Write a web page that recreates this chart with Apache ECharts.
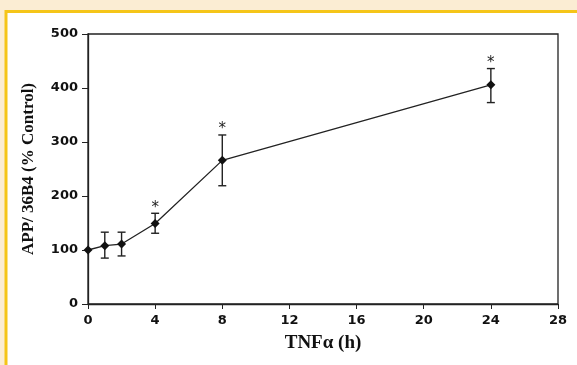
<!DOCTYPE html>
<html>
<head>
<meta charset="utf-8">
<script src="https://cdn.jsdelivr.net/npm/echarts@6/dist/echarts.min.js"></script>
<style>
  html, body { margin: 0; padding: 0; background: #fbedd3; }
  #chart { width: 577px; height: 365px; }
</style>
</head>
<body>
<div id="chart"></div>
<script>
// time points (h) and APP/36B4 mean, error bar limits
const hours = [0, 1, 2, 4, 8, 24]
const means = [100, 108, 111, 149, 266, 406]
const upper = [100, 133, 133, 168, 313, 436]
const lower = [100, 85, 89, 131, 219, 373]
const significant = [false, false, false, true, true, true]

const chart = echarts.init(document.getElementById('chart'))

const tickFont = {
  fontFamily: 'DejaVu Sans',
  fontWeight: 'bold',
  fontSize: 13,
  color: '#111'
}

const option = {
  animation: false,
  backgroundColor: 'transparent',
  graphic: [
    {
      // yellow frame, only top and left edges are in view
      type: 'rect',
      shape: { x: 6, y: 11.5, width: 700, height: 500 },
      style: { fill: '#fff', stroke: '#f5c518', lineWidth: 3 },
      z: -10
    }
  ],
  grid: {
    left: 88,
    right: 19,
    top: 34,
    bottom: 61,
    show: true,
    borderColor: '#222',
    borderWidth: 1.3,
    backgroundColor: '#fff'
  },
  xAxis: {
    type: 'value',
    min: 0,
    max: 28,
    interval: 4,
    splitLine: { show: false },
    axisLine: { show: true, lineStyle: { color: '#222', width: 1.3 } },
    axisTick: { show: true, length: 5, lineStyle: { color: '#222' } },
    axisLabel: { ...tickFont, margin: 10 },
    name: 'TNF\u03b1 (h)',
    nameLocation: 'middle',
    nameGap: 30,
    nameTextStyle: {
      fontFamily: 'Liberation Serif',
      fontWeight: 'bold',
      fontSize: 19,
      color: '#111'
    }
  },
  yAxis: {
    type: 'value',
    min: 0,
    max: 500,
    interval: 100,
    splitLine: { show: false },
    axisLine: { show: true, lineStyle: { color: '#222', width: 1.3 } },
    axisTick: { show: true, length: 6, lineStyle: { color: '#222' } },
    axisLabel: { ...tickFont, margin: 10 },
    name: 'APP/ 36B4 (% Control)',
    nameLocation: 'middle',
    nameGap: 51,
    nameTextStyle: {
      fontFamily: 'Liberation Serif',
      fontWeight: 'bold',
      fontSize: 17,
      color: '#111'
    }
  },
  series: [
    {
      type: 'line',
      data: hours.map((h, i) => [h, means[i]]),
      symbol: 'diamond',
      symbolSize: 9,
      lineStyle: { color: '#222', width: 1.3 },
      itemStyle: { color: '#111' },
      z: 3
    },
    {
      type: 'custom',
      data: hours.map((h, i) => [h, lower[i], upper[i], significant[i] ? 1 : 0]),
      renderItem: function (params, api) {
        const lo = api.coord([api.value(0), api.value(1)])
        const hi = api.coord([api.value(0), api.value(2)])
        const w = 4
        const style = { stroke: '#222', lineWidth: 1.4 }
        const children = []
        if (hi[1] < lo[1] - 1) {
          children.push(
            { type: 'line', shape: { x1: hi[0], y1: hi[1], x2: lo[0], y2: lo[1] }, style },
            { type: 'line', shape: { x1: hi[0] - w, y1: hi[1], x2: hi[0] + w, y2: hi[1] }, style },
            { type: 'line', shape: { x1: lo[0] - w, y1: lo[1], x2: lo[0] + w, y2: lo[1] }, style }
          )
        }
        if (api.value(3)) {
          children.push({
            type: 'text',
            x: hi[0],
            y: hi[1] + 2,
            style: {
              text: '*',
              fontFamily: 'DejaVu Sans',
              fontSize: 15,
              fill: '#222',
              align: 'center',
              verticalAlign: 'bottom'
            }
          })
        }
        return { type: 'group', children }
      },
      z: 2
    }
  ]
}

chart.setOption(option)
</script>
</body>
</html>
